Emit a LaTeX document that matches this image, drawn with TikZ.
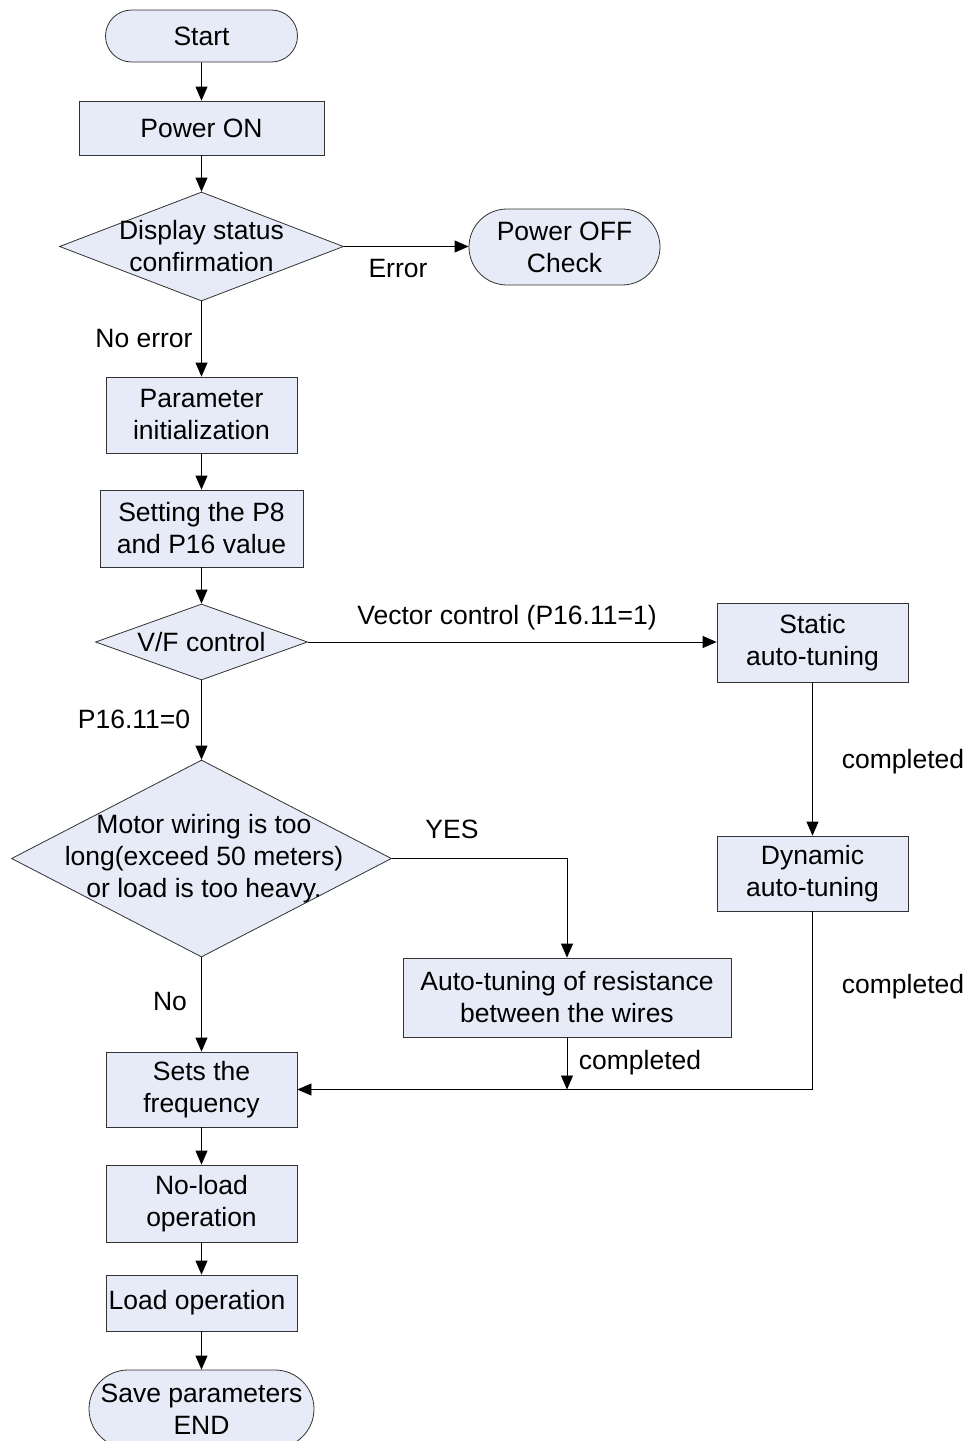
\documentclass[tikz,border=0pt]{standalone}
\usepackage{fontspec}
\setmainfont{Liberation Sans}
\usetikzlibrary{shapes.geometric,shapes.misc,arrows.meta}
\definecolor{boxfill}{RGB}{230,235,247}
\definecolor{boxline}{RGB}{50,50,50}
\begin{document}
\begin{tikzpicture}[x=1pt,y=-1pt,
  every node/.style={font=\fontsize{26.5}{32}\selectfont},
  base/.style={draw=boxline, fill=boxfill, line width=0.8pt, inner sep=0pt, align=center},
  procbox/.style={base, rectangle},
  termbox/.style={base, rounded rectangle},
  decbox/.style={base, diamond, aspect=2},
  txt/.style={align=center, inner sep=0pt},
  flow/.style={line width=0.8pt, -{Triangle[length=14pt,width=12pt]}},
  plain/.style={line width=0.8pt}]
\useasboundingbox (0,0) rectangle (967,1441);
\clip (0,0) rectangle (967,1441);

% main column
\node[termbox, minimum width=192pt, minimum height=52pt] (start) at (201.5,36) {Start};
\node[procbox, minimum width=245pt, minimum height=54pt] (pon) at (201.5,128) {Power ON};
\node[decbox, minimum width=284pt, minimum height=109pt] (d1) at (201.5,246.5) {};
\node[txt] (d1t) at (201.5,246) {Display status\\confirmation};
\node[termbox, minimum width=191pt, minimum height=76pt] (poff) at (564.5,247) {Power OFF\\Check};
\node[procbox, minimum width=191pt, minimum height=76pt] (pinit) at (201.5,415) {Parameter\\initialization};
\node[procbox, minimum width=203pt, minimum height=77pt] (setp) at (201.5,528.5) {Setting the P8\\and P16 value};
\node[decbox, minimum width=212pt, minimum height=76pt] (d2) at (201.5,642) {};
\node[txt] (d2t) at (201.5,642) {V/F control};
\node[decbox, minimum width=380pt, minimum height=197pt] (d3) at (201.5,858.5) {};
\node[txt] (d3t) at (204,859) {Motor wiring is too\\long(exceed 50 meters)\\or load is too heavy.};
\node[procbox, minimum width=191pt, minimum height=75pt] (freq) at (201.5,1089.5) {Sets the\\frequency};
\node[procbox, minimum width=191pt, minimum height=77pt] (noload) at (201.5,1203.5) {No-load\\operation};
\node[procbox, minimum width=191pt, minimum height=56pt] (load) at (201.5,1303) {};
\node[txt] (loadt) at (197,1303) {Load operation};
\node[termbox, minimum width=225pt, minimum height=78pt] (endn) at (201.5,1409) {Save parameters\\END};

% tuning branches
\node[procbox, minimum width=191pt, minimum height=79pt] (stat) at (812.5,642.5) {Static\\auto-tuning};
\node[procbox, minimum width=191pt, minimum height=75pt] (dyn) at (812.5,873.5) {Dynamic\\auto-tuning};
\node[procbox, minimum width=328pt, minimum height=79pt] (atr) at (567,997.5) {Auto-tuning of resistance\\between the wires};
\coordinate (join) at (atr.south |- freq.east);

% connectors
\draw[flow] (start) -- (pon);
\draw[flow] (pon) -- (d1.north);
\draw[flow] (d1.east) -- (d1.east -| poff.west);
\draw[flow] (d1.south) -- (pinit);
\draw[flow] (pinit) -- (setp);
\draw[flow] (setp) -- (d2.north);
\draw[flow] (d2.east) -- (d2.east -| stat.west);
\draw[flow] (d2.south) -- (d3.north);
\draw[flow] (d3.east) -| (atr.north);
\draw[flow] (d3.south) -- (freq);
\draw[flow] (stat) -- (dyn);
\draw[flow] (dyn.south) |- (freq.east);
\draw[flow] (atr.south) -- (join);
\draw[flow] (freq) -- (noload);
\draw[flow] (noload) -- (load);
\draw[flow] (load) -- (endn);

% connector labels
\node[txt] (lerr) at (398,269) {Error};
\node[txt] (lnoerr) at (144,339) {No error};
\node[txt] (lvec) at (507,618) {Vector control (P16.11=1)};
\node[txt] (lvf) at (134,719) {P16.11=0};
\node[txt] (lyes) at (452,829) {YES};
\node[txt] (lno) at (170,1001) {No};
\node[txt] (lc1) at (903,762) {completed};
\node[txt] (lc2) at (903,987) {completed};
\node[txt] (lc3) at (640,1063) {completed};
\end{tikzpicture}
\end{document}
